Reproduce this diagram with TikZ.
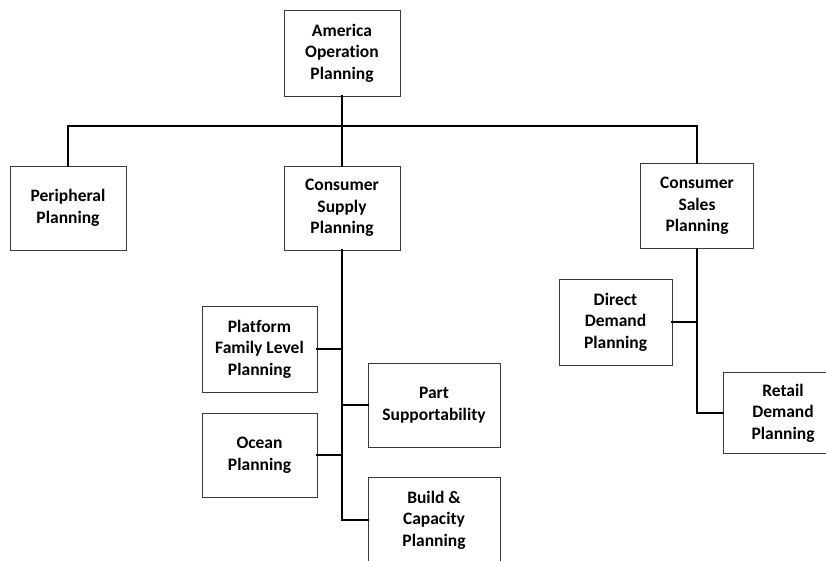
\documentclass[tikz,border=0pt]{standalone}
\usepackage{fontspec}
\setmainfont{Carlito}[Ligatures=NoCommon]
\usetikzlibrary{positioning}
\definecolor{boxline}{HTML}{3A3A3A}
\tikzset{
  unit/.style={draw=boxline,line width=0.8pt,fill=white,align=center,
    inner sep=0pt,font=\fontsize{17.5}{21.5}\selectfont\bfseries},
  link/.style={line width=2.6pt,line cap=rect}
}
\begin{document}
\begin{tikzpicture}[x=1pt,y=-1pt]
  \clip (0,0) rectangle (826,560);
  \fill[white] (0,0) rectangle (826,560);
  % top level
  \node[unit,minimum width=116pt,minimum height=86pt] (aop) at (342,53)
       {America\\Operation\\Planning};
  \coordinate (bus) at (342,126);
  % second level
  \node[unit,minimum width=116pt,minimum height=84pt] (peri) at (68,208)
       {Peripheral\\Planning};
  \node[unit,minimum width=116pt,minimum height=84pt] (supply) at (342,208)
       {Consumer\\Supply\\Planning};
  \node[unit,minimum width=113pt,minimum height=85pt] (sales) at (697,206)
       {Consumer\\Sales\\Planning};
  % under supply
  \node[unit,minimum width=115pt,minimum height=86pt] (platform) at (259.5,349)
       {Platform\\Family Level\\Planning};
  \node[unit,minimum width=115pt,minimum height=84pt] (ocean) at (259.5,455)
       {Ocean\\Planning};
  \node[unit,minimum width=132pt,minimum height=84pt] (part) at (434,405)
       {Part\\Supportability};
  \node[unit,minimum width=132pt,minimum height=86pt] (build) at (434,520)
       {Build \&\\Capacity\\Planning};
  % under sales
  \node[unit,minimum width=113pt,minimum height=86pt] (direct) at (615.5,322)
       {Direct\\Demand\\Planning};
  \node[unit,minimum width=120pt,minimum height=81pt] (retail) at (783,413)
       {Retail\\Demand\\Planning};
  % connectors
  \draw[link] (aop.south) -- (bus);
  \draw[link] (peri.north) |- (bus) -| (sales.north);
  \draw[link] (bus) -- (supply.north);
  \draw[link] (supply.south) |- (build.west);
  \draw[link] (platform.east) -- (platform.east -| supply.south);
  \draw[link] (ocean.east) -- (ocean.east -| supply.south);
  \draw[link] (part.west) -- (part.west -| supply.south);
  \draw[link] (sales.south) |- (retail.west);
  \draw[link] (direct.east) -- (direct.east -| sales.south);
\end{tikzpicture}
\end{document}
